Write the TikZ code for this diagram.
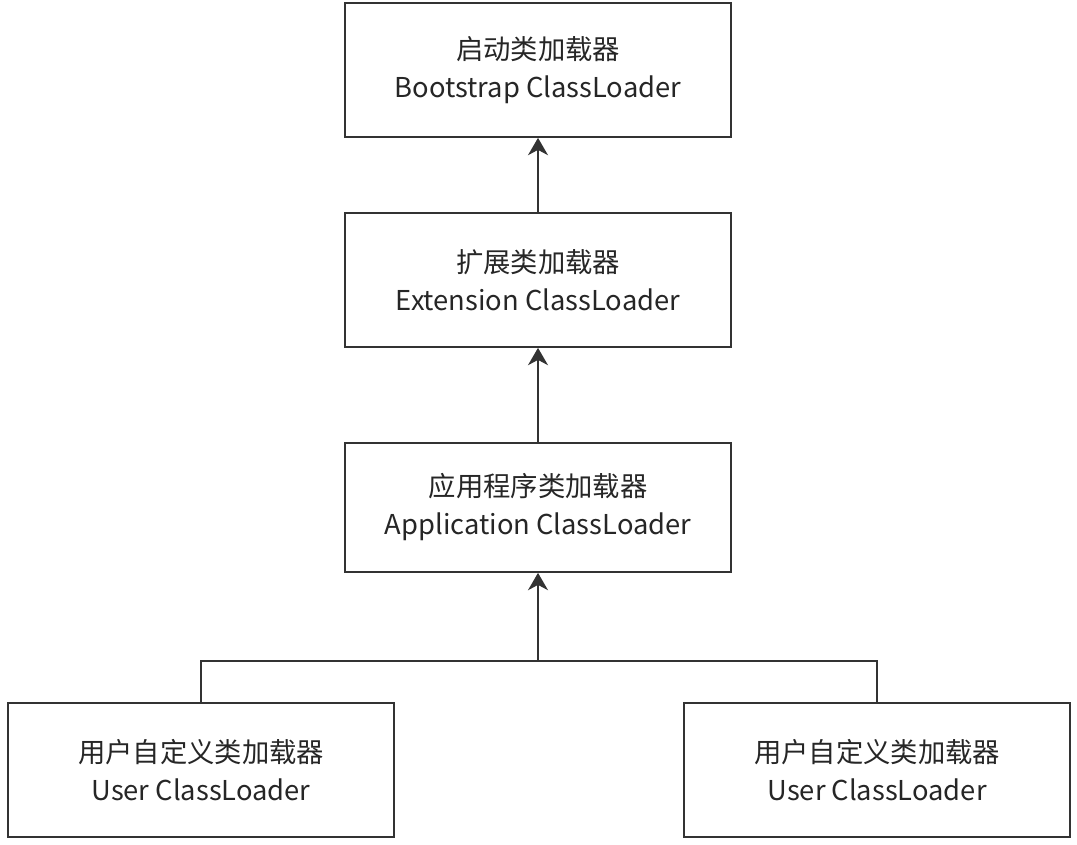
\documentclass[tikz,border=0pt]{standalone}
\usepackage{fontspec}
\setmainfont{Noto Sans CJK SC}
\usepackage{xcolor}
\usepackage{tikz}
\usetikzlibrary{arrows.meta, calc}

\definecolor{linegray}{HTML}{333333}
\tikzset{
    loaderbox/.style={draw=linegray, line width=1.3pt, minimum width=386*0.75pt, minimum height=134*0.75pt,
        align=center, font=\fontsize{20.5}{28.5}\selectfont, text=black!85, inner sep=0pt},
    uparrow/.style={draw=linegray, line width=1.3pt, -{Stealth[length=13pt, width=15pt, inset=4pt]}}
}

\begin{document}
\begin{tikzpicture}[x=0.75pt, y=-0.75pt]
            \useasboundingbox (0, 0) rectangle (1077, 844);
            \node[loaderbox] (boot) at (538, 70) {启动类加载器\\Bootstrap ClassLoader};
            \node[loaderbox] (ext) at (538, 280) {扩展类加载器\\Extension ClassLoader};
            \node[loaderbox, minimum height=129*0.75pt] (app) at (538, 507.5) {应用程序类加载器\\Application ClassLoader};
            \node[loaderbox] (userl) at (201, 770) {用户自定义类加载器\\User ClassLoader};
            \node[loaderbox] (userr) at (877, 770) {用户自定义类加载器\\User ClassLoader};
            \coordinate (join) at (538, 661);
            \draw[uparrow] (ext.north) -- (boot.south);
            \draw[uparrow] (app.north) -- (ext.south);
            \draw[uparrow] (join) -- (app.south);
            \draw[draw=linegray, line width=1.3pt] (userl.north) |- (join) -| (userr.north);
        \end{tikzpicture}
\end{document}
